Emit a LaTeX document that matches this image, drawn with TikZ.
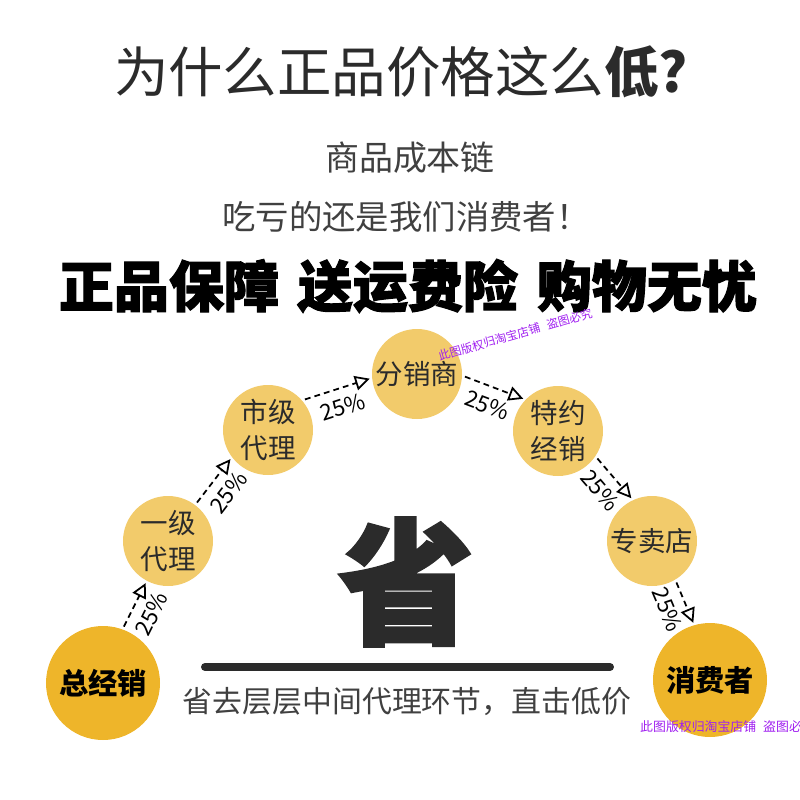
\documentclass[tikz,border=0pt]{standalone}
\usepackage{fontspec}
\setmainfont{Noto Sans CJK SC}
\newfontfamily\heavy[BoldFeatures={FakeBold=2}]{Noto Sans CJK SC}
\usetikzlibrary{arrows.meta}
\usetikzlibrary{positioning}
\definecolor{gold}{HTML}{F2CB6B}
\definecolor{deepgold}{HTML}{EEB52A}
\definecolor{ink}{HTML}{2B2B2B}
\definecolor{mark}{HTML}{A020F0}

\begin{document}
\begin{tikzpicture}[x=0.03cm, y=-0.03cm,
    stage/.style={circle, fill=gold, minimum size=2.7cm, inner sep=0pt, align=center,
      text=ink, font=\fontsize{23.5}{31}\selectfont},
    bigstage/.style={stage, fill=deepgold, minimum size=3.42cm, text=black,
      font=\fontsize{25}{30}\selectfont\bfseries},
    flow/.style={draw=black, line width=1.5pt, dash pattern=on 5pt off 3.5pt,
      shorten <=2.5pt, shorten >=2pt, -{Triangle[open, length=12.5pt, width=12.5pt]}},
    pct/.style={font=\fontsize{19}{19}\selectfont, sloped, below=7pt, inner sep=1pt}]
    \useasboundingbox (0,0) rectangle (800,800);

    \node (title) at (401,72) [text=ink, font=\fontsize{46.5}{46.5}\selectfont]
      {为什么正品价格这么{\bfseries 低?}};
    \node (chain) at (410,158) [text=ink!90, font=\fontsize{29}{29}\selectfont] {商品成本链};
    \node (loss) at (406,217) [text=ink!90, font=\fontsize{28.5}{28.5}\selectfont] {吃亏的还是我们消费者！};
    \node (slogan) at (408,286) [font=\heavy\bfseries\fontsize{47}{47}\selectfont]
      {正品保障\hspace{16pt}送运费险\hspace{16pt}购物无忧};

    \node [bigstage] (s1) at (103,683) {总经销};
    \node [stage] (s2) at (168,541) {一级\\代理};
    \node [stage] (s3) at (268,430) {市级\\代理};
    \node [stage] (s4) at (417,374) {分销商};
    \node [stage] (s5) at (558,431) {特约\\经销};
    \node [stage] (s6) at (652,541) {专卖店};
    \node [bigstage] (s7) at (710,680) {消费者};

    \draw[flow] (s1.70) -- node[pct] {25\%} (s2.242);
    \draw[flow] (s2.53) -- node[pct] {25\%} (s3.217);
    \draw[flow] (s3.41) -- node[pct] {25\%} (s4.185);
    \draw[flow] (s4.358) -- node[pct] {25\%} (s5.136);
    \draw[flow] (s5.326) -- node[pct] {25\%} (s6.115);
    \draw[flow] (s6.301) -- node[pct] {25\%} (s7.106);

    \node (save) at (406,582) [text=ink, font=\heavy\bfseries\fontsize{116}{116}\selectfont] {省};
    \coordinate (barl) at (205,667);
    \coordinate (barr) at (610,667);
    \draw[ink, line width=6.8pt, line cap=round] (barl) -- (barr);
    \node (cut) at (407,702) [text=ink!90, font=\fontsize{25.5}{25.5}\selectfont] {省去层层中间代理环节，直击低价};

    \node (wm1) at (440,362) [anchor=south west, rotate=16, inner sep=0pt, text=mark,
      font=\fontsize{10}{10}\selectfont] {此图版权归淘宝店铺\hspace{6pt}盗图必究};
    \node (wm2) at (640,727) [anchor=west, inner sep=0pt, text=mark,
      font=\fontsize{11}{11}\selectfont] {此图版权归淘宝店铺\hspace{6pt}盗图必究};
  \end{tikzpicture}
\end{document}
